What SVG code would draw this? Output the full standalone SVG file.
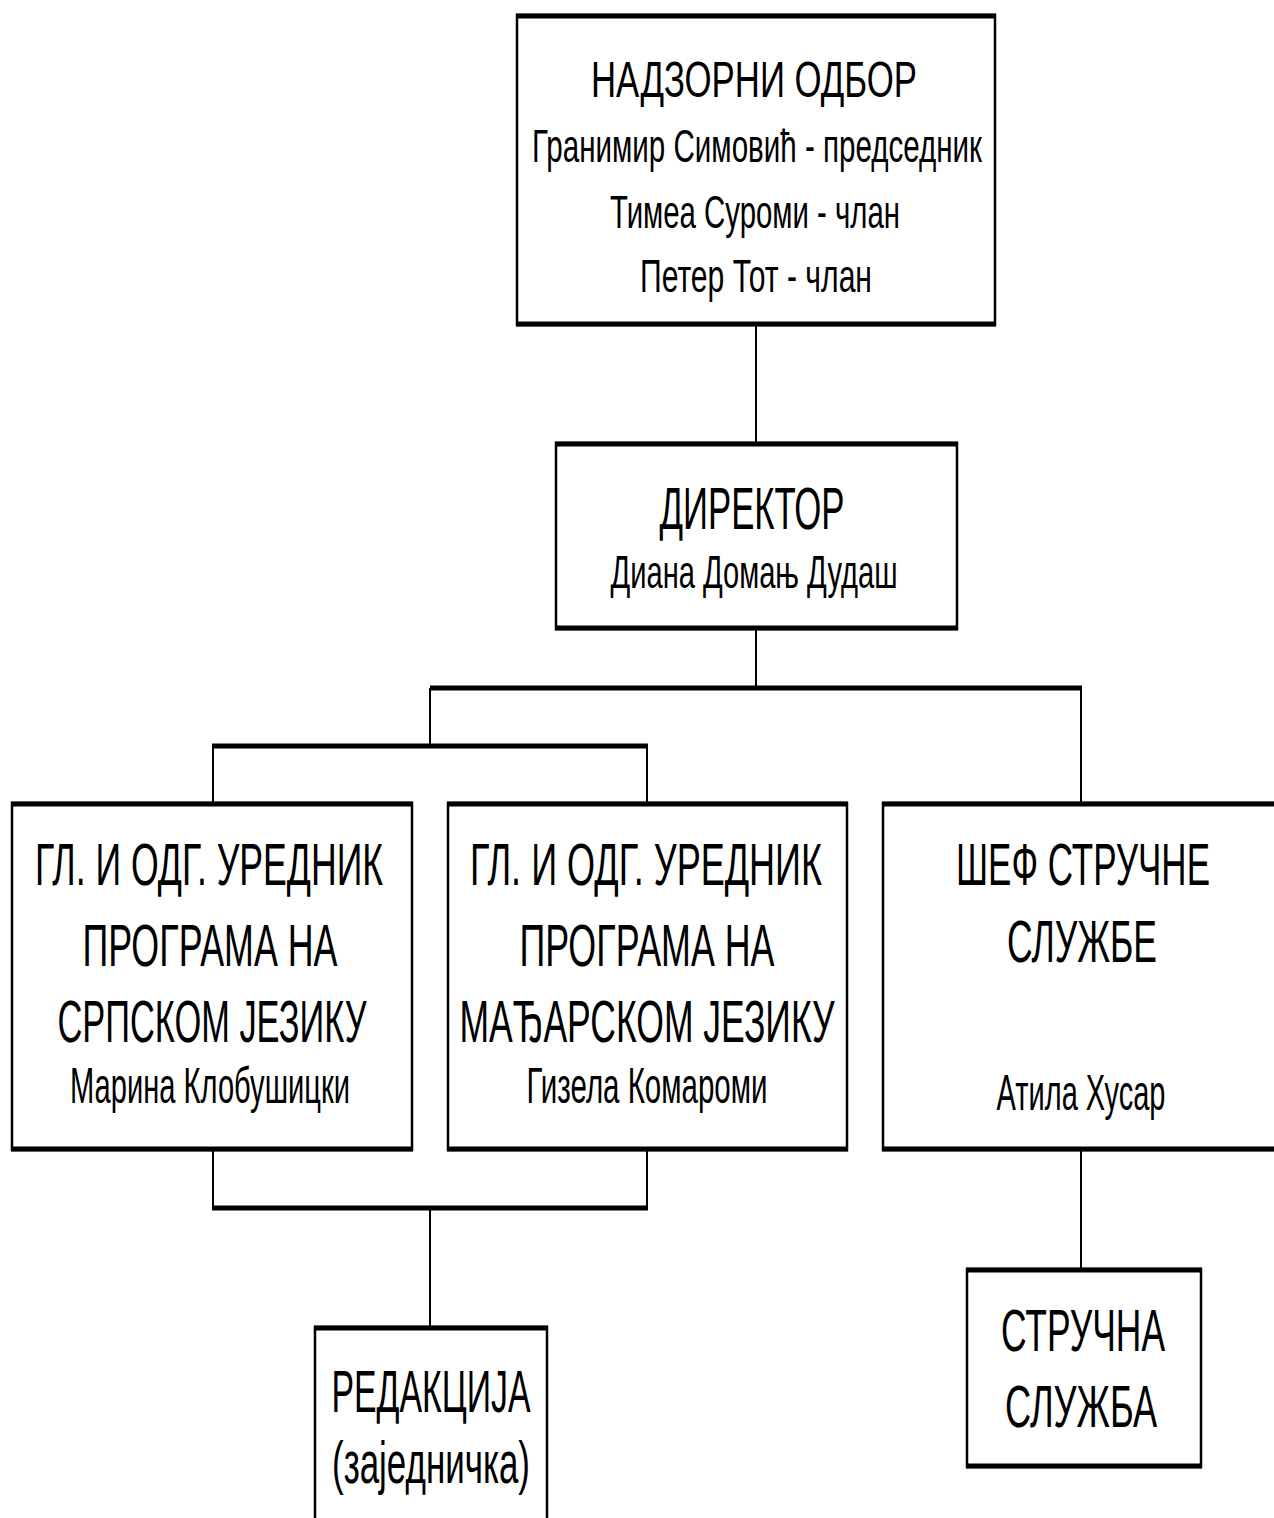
<svg xmlns="http://www.w3.org/2000/svg" width="1274" height="1518" viewBox="0 0 1274 1518">
<style>
.box{fill:#fff;stroke:#000;stroke-width:2.5}
.he{stroke:#000;stroke-width:5;fill:none}
.v{stroke:#000;stroke-width:2;fill:none}
.h{stroke:#000;stroke-width:5;fill:none}
text{font-family:"Liberation Sans Narrow","Arial Narrow","Liberation Sans",Arial,sans-serif;fill:#000;text-anchor:middle}
.big{font-size:60px}
.mid{font-size:50px}
.sm{font-size:47px}
</style>
<rect width="1274" height="1518" fill="#fff"/>
<g id="connectors">
<line class="v" x1="756" y1="325" x2="756" y2="443"/>
<line class="v" x1="756" y1="629" x2="756" y2="688"/>
<line class="h" x1="430" y1="688" x2="1082" y2="688"/>
<line class="v" x1="430" y1="688" x2="430" y2="746"/>
<line class="h" x1="212" y1="746" x2="648" y2="746"/>
<line class="v" x1="213" y1="746" x2="213" y2="803"/>
<line class="v" x1="647" y1="746" x2="647" y2="803"/>
<line class="v" x1="1081" y1="688" x2="1081" y2="803"/>
<line class="v" x1="213" y1="1150" x2="213" y2="1208"/>
<line class="v" x1="647" y1="1150" x2="647" y2="1208"/>
<line class="h" x1="212" y1="1208" x2="648" y2="1208"/>
<line class="v" x1="430" y1="1208" x2="430" y2="1327"/>
<line class="v" x1="1081" y1="1150" x2="1081" y2="1269"/>
</g>
<g id="nadzorni">
<rect class="box" x="517" y="15" width="478" height="310"/>
<line class="he" x1="516" y1="16" x2="996" y2="16"/>
<line class="he" x1="516" y1="324" x2="996" y2="324"/>
<text class="mid" x="754" y="97" textLength="326" lengthAdjust="spacingAndGlyphs">НАДЗОРНИ ОДБОР</text>
<text class="sm" x="757" y="162" textLength="450" lengthAdjust="spacingAndGlyphs">Гранимир Симовић - председник</text>
<text class="sm" x="755" y="228" textLength="290" lengthAdjust="spacingAndGlyphs">Тимеа Суроми - члан</text>
<text class="sm" x="756" y="292" textLength="232" lengthAdjust="spacingAndGlyphs">Петер Тот - члан</text>
</g>
<g id="direktor">
<rect class="box" x="556" y="443" width="401" height="186"/>
<line class="he" x1="555" y1="444" x2="958" y2="444"/>
<line class="he" x1="555" y1="628" x2="958" y2="628"/>
<text class="big" x="752" y="529" textLength="185" lengthAdjust="spacingAndGlyphs">ДИРЕКТОР</text>
<text class="sm" x="754" y="588" textLength="287" lengthAdjust="spacingAndGlyphs">Диана Домањ Дудаш</text>
</g>
<g id="urednik-srpski">
<rect class="box" x="12" y="803" width="400" height="347"/>
<line class="he" x1="11" y1="804" x2="413" y2="804"/>
<line class="he" x1="11" y1="1149" x2="413" y2="1149"/>
<text class="big" x="209" y="885" textLength="348" lengthAdjust="spacingAndGlyphs">ГЛ. И ОДГ. УРЕДНИК</text>
<text class="big" x="210" y="966" textLength="255" lengthAdjust="spacingAndGlyphs">ПРОГРАМА НА</text>
<text class="big" x="212" y="1042" textLength="309" lengthAdjust="spacingAndGlyphs">СРПСКОМ ЈЕЗИКУ</text>
<text class="mid" x="210" y="1103" textLength="280" lengthAdjust="spacingAndGlyphs">Марина Клобушицки</text>
</g>
<g id="urednik-madjarski">
<rect class="box" x="448" y="803" width="399" height="347"/>
<line class="he" x1="447" y1="804" x2="848" y2="804"/>
<line class="he" x1="447" y1="1149" x2="848" y2="1149"/>
<text class="big" x="646" y="885" textLength="352" lengthAdjust="spacingAndGlyphs">ГЛ. И ОДГ. УРЕДНИК</text>
<text class="big" x="647" y="966" textLength="255" lengthAdjust="spacingAndGlyphs">ПРОГРАМА НА</text>
<text class="big" x="647" y="1042" textLength="375" lengthAdjust="spacingAndGlyphs">МАЂАРСКОМ ЈЕЗИКУ</text>
<text class="mid" x="647" y="1103" textLength="241" lengthAdjust="spacingAndGlyphs">Гизела Комароми</text>
</g>
<g id="sef-strucne">
<rect class="box" x="883" y="803" width="400" height="347"/>
<line class="he" x1="882" y1="804" x2="1280" y2="804"/>
<line class="he" x1="882" y1="1149" x2="1280" y2="1149"/>
<text class="big" x="1083" y="885" textLength="254" lengthAdjust="spacingAndGlyphs">ШЕФ СТРУЧНЕ</text>
<text class="big" x="1082" y="962" textLength="150" lengthAdjust="spacingAndGlyphs">СЛУЖБЕ</text>
<text class="mid" x="1081" y="1110" textLength="169" lengthAdjust="spacingAndGlyphs">Атила Хусар</text>
</g>
<g id="redakcija">
<rect class="box" x="315" y="1327" width="232" height="200"/>
<line class="he" x1="314" y1="1328" x2="548" y2="1328"/>
<text class="big" x="431" y="1412" textLength="199" lengthAdjust="spacingAndGlyphs">РЕДАКЦИЈА</text>
<text class="big" x="431" y="1483" textLength="198" lengthAdjust="spacingAndGlyphs">(заједничка)</text>
</g>
<g id="strucna-sluzba">
<rect class="box" x="967" y="1269" width="234" height="198"/>
<line class="he" x1="966" y1="1270" x2="1202" y2="1270"/>
<line class="he" x1="966" y1="1466" x2="1202" y2="1466"/>
<text class="big" x="1083" y="1351" textLength="164" lengthAdjust="spacingAndGlyphs">СТРУЧНА</text>
<text class="big" x="1081" y="1427" textLength="152" lengthAdjust="spacingAndGlyphs">СЛУЖБА</text>
</g>
</svg>
